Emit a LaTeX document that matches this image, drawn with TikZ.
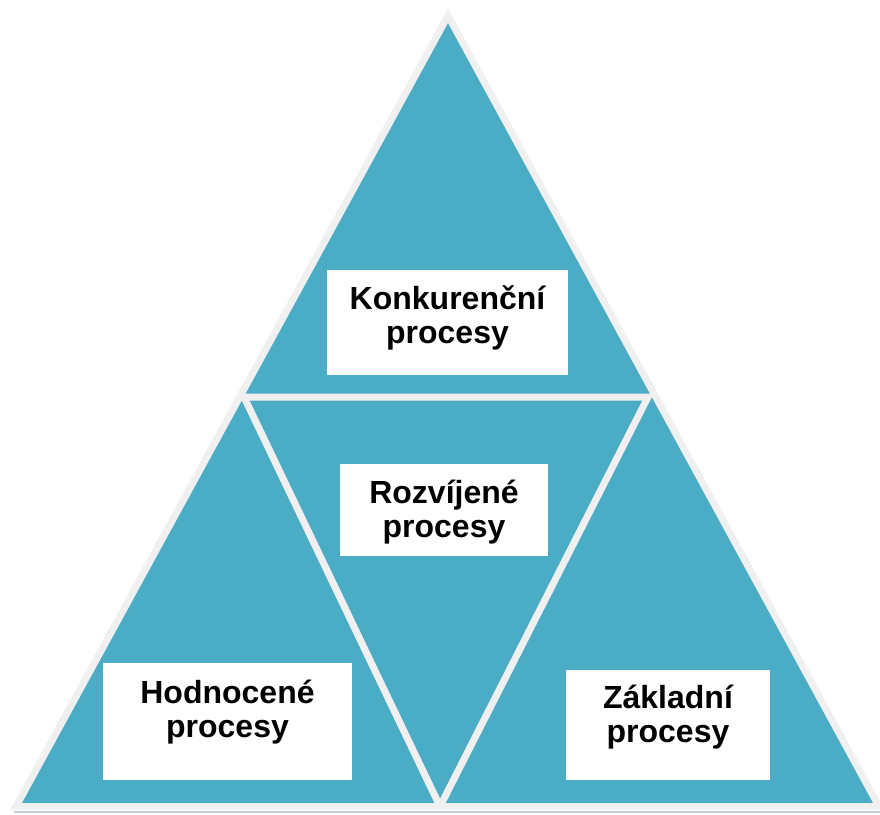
\documentclass[tikz,border=0pt]{standalone}
\usepackage{fontspec}
\setmainfont{Liberation Sans}
\begin{document}
\begin{tikzpicture}[x=1pt,y=-1pt,
  tri/.style={fill=teal4, draw=rim, line width=7pt, line join=miter},
  rimline/.style={draw=rim, line width=7pt, line join=miter},
  labelbox/.style={fill=white, draw=none, inner sep=0pt},
  labeltext/.style={font=\bfseries\fontsize{32}{33.5}\selectfont, align=center, inner sep=0pt}]
  \definecolor{teal4}{HTML}{4BACC6}
  \definecolor{rim}{HTML}{F0F0F0}
  \definecolor{groundgray}{HTML}{C4CCD2}
  \useasboundingbox (0,0) rectangle (880,814);

  % corners of the pyramid and of the inner inverted triangle
  \coordinate (A) at (448,15.7);
  \coordinate (B) at (16,806.5);
  \coordinate (C) at (879,806.5);
  \coordinate (P) at (244,397);
  \coordinate (Q) at (648,397);
  \coordinate (R) at (440,806.5);
  \coordinate (S1) at (14,812);
  \coordinate (S2) at (880,812);

  % faint ground line under the base
  \draw[draw=groundgray, line width=2pt] (S1) -- (S2);
  % outer pyramid
  \path[tri] (A) -- (B) -- (C) -- cycle;
  % inner inverted triangle splitting it into four parts
  \begin{scope}
    \clip (A) -- (B) -- (C) -- cycle;
    \path[rimline] (P) -- (Q) -- (R) -- cycle;
  \end{scope}

  % label boxes
  \node[labelbox, minimum width=241pt, minimum height=105pt] (kbox) at (447.5,322.5) {};
  \node[labelbox, minimum width=208pt, minimum height=92pt] (rbox) at (444,510) {};
  \node[labelbox, minimum width=249pt, minimum height=117pt] (hbox) at (227.5,721.5) {};
  \node[labelbox, minimum width=204pt, minimum height=110pt] (zbox) at (668,725) {};

  % label texts (anchored at the baseline of the second line)
  \node[labeltext, anchor=base] (ktext) at (447.5,343) {Konkurenční\\procesy};
  \node[labeltext, anchor=base] (rtext) at (444,537) {Rozvíjené\\procesy};
  \node[labeltext, anchor=base] (htext) at (227.5,737) {Hodnocené\\procesy};
  \node[labeltext, anchor=base] (ztext) at (668,742) {Základní\\procesy};
\end{tikzpicture}
\end{document}
